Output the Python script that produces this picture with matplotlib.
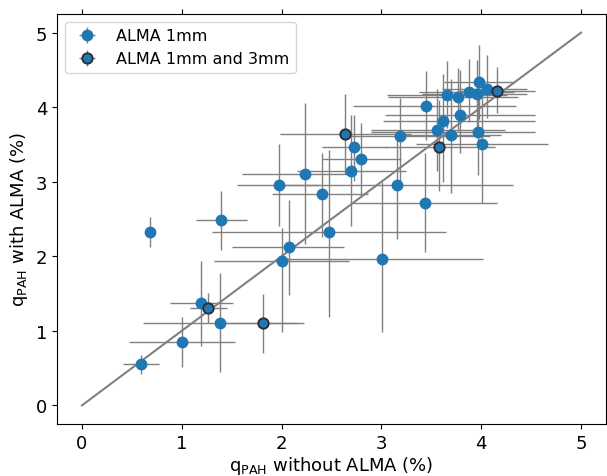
import numpy as np
import matplotlib.pyplot as plt

# q_PAH fits, ALMA 1mm only
x1 = [0.59, 0.68, 1.00, 1.19, 1.38, 1.39, 1.97, 2.00, 2.07, 2.23, 2.40, 2.47,
      2.70, 2.73, 2.80, 3.01, 3.16, 3.19, 3.44, 3.45, 3.56, 3.62, 3.66, 3.70,
      3.77, 3.79, 3.88, 3.96, 3.97, 3.98, 4.01, 4.06]
y1 = [0.55, 2.33, 0.85, 1.37, 1.11, 2.48, 2.96, 1.93, 2.12, 3.11, 2.84, 2.32,
      3.15, 3.46, 3.31, 1.97, 2.95, 3.62, 2.72, 4.02, 3.70, 3.82, 4.17, 3.63,
      4.13, 3.90, 4.20, 4.18, 3.67, 4.34, 3.51, 4.25]
x1_lo = [0.18, 0.02, 0.53, 0.31, 0.77, 0.25, 0.42, 0.68, 0.57, 0.63, 0.50, 1.17,
         0.55, 0.33, 0.40, 1.01, 1.16, 0.52, 0.72, 0.73, 0.66, 0.60, 0.60, 0.50,
         0.70, 0.75, 0.50, 0.55, 1.07, 0.35, 0.66, 0.45]
x1_hi = [0.18, 0.02, 0.53, 0.32, 0.77, 0.26, 0.40, 0.68, 0.56, 0.52, 0.47, 1.18,
         0.55, 0.33, 0.40, 1.01, 1.16, 0.90, 0.72, 0.90, 0.68, 0.92, 0.60, 0.50,
         0.60, 0.75, 0.45, 0.50, 0.57, 0.35, 0.66, 0.40]
y1_lo = [0.13, 0.20, 0.34, 0.58, 0.66, 0.40, 0.56, 0.95, 0.64, 0.95, 0.58, 1.13,
         0.75, 0.45, 0.51, 0.99, 0.72, 0.63, 0.66, 0.46, 0.55, 0.83, 0.45, 0.78,
         0.45, 0.51, 0.40, 0.50, 0.58, 0.50, 0.79, 0.40]
y1_hi = [0.12, 0.20, 0.34, 0.56, 0.66, 0.39, 0.55, 0.45, 0.63, 0.95, 0.55, 1.11,
         0.75, 0.44, 0.48, 1.02, 0.72, 0.50, 0.67, 0.46, 0.55, 0.62, 0.45, 0.75,
         0.40, 0.60, 0.45, 0.45, 0.58, 0.50, 0.80, 0.45]

# q_PAH fits, ALMA 1mm and 3mm
x2 = [1.26, 1.81, 2.64, 3.58, 4.16]
y2 = [1.31, 1.10, 3.64, 3.46, 4.22]
x2_lo = [0.18, 0.45, 0.66, 0.54, 0.38]
x2_hi = [0.19, 0.41, 0.66, 0.56, 0.38]
y2_lo = [0.20, 0.40, 0.54, 0.59, 0.30]
y2_hi = [0.20, 0.40, 0.54, 0.64, 0.32]

fig = plt.figure(figsize=(6.07, 4.77), dpi=100)
ax = fig.add_axes([57 / 607, 52 / 477, 549 / 607, 410 / 477])

ax.plot([0, 5], [0, 5], color="gray", lw=1.5, zorder=2)

ax.errorbar(x1, y1, xerr=[x1_lo, x1_hi], yerr=[y1_lo, y1_hi], fmt="o",
            color="#1f77b4", ms=7.5, ecolor="gray", elinewidth=1, zorder=3,
            label="ALMA 1mm")
ax.errorbar(x2, y2, xerr=[x2_lo, x2_hi], yerr=[y2_lo, y2_hi], fmt="o",
            color="#1f77b4", mec="#2b2b2b", mew=1.3, ms=7.5, ecolor="gray",
            elinewidth=1, zorder=3, label="ALMA 1mm and 3mm")

ax.set_xlim(-0.25, 5.25)
ax.set_ylim(-0.25, 5.25)
ax.set_xticks(range(6))
ax.set_yticks(range(6))
ax.tick_params(labelsize=13, top=True, right=True)
ax.set_xlabel(r"q$_{\rm PAH}$ without ALMA (%)", fontsize=13, labelpad=2)
ax.set_ylabel(r"q$_{\rm PAH}$ with ALMA (%)", fontsize=13)
ax.legend(loc="upper left", fontsize=11.5)

fig.savefig("out.png", dpi=100)
